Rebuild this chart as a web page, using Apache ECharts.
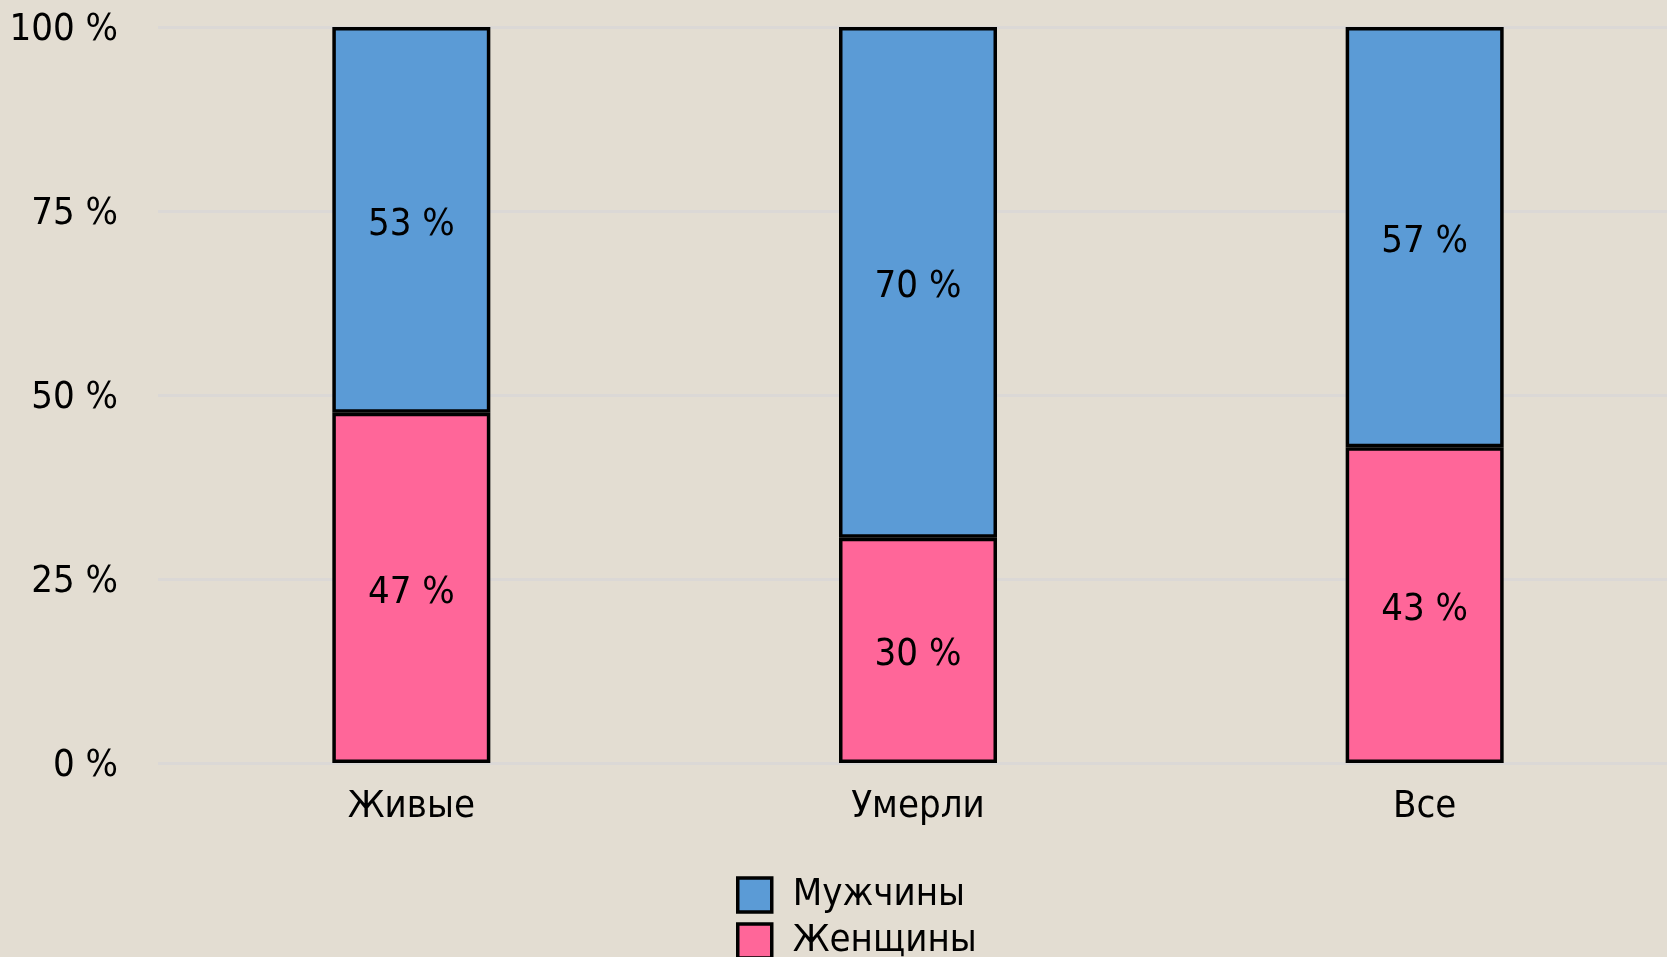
<!DOCTYPE html>
<html>
<head>
<meta charset="utf-8">
<script src="https://cdn.jsdelivr.net/npm/echarts@6/dist/echarts.min.js"></script>
<style>
  html, body { margin: 0; padding: 0; background: #e3ddd2; }
  #chart { width: 1667px; height: 957px; }
</style>
</head>
<body>
<div id="chart"></div>
<script>
// categories on the x axis
const groups = ['Живые', 'Умерли', 'Все'];

// share of women (bottom) and men (top), percent
const women = [47.6, 30.6, 42.9];
const men = [52.4, 69.4, 57.1];

// labels printed inside the bars
const womenLabels = ['47 %', '30 %', '43 %'];
const menLabels = ['53 %', '70 %', '57 %'];

// y tick values
const yTicks = [0, 25, 50, 75, 100];

const FONT = "'DejaVu Sans Condensed', 'DejaVu Sans', sans-serif";
const SIZE = 38;

const chart = echarts.init(document.getElementById('chart'));

// one legend block per row, so they stack vertically
function legendRow(name, top) {
    return {
        data: [name],
        left: 731,
        top: top,
        itemWidth: 34,
        itemHeight: 34,
        icon: 'rect',
        itemStyle: { borderColor: '#000', borderWidth: 3.5 },
        textStyle: {
            fontFamily: FONT,
            fontSize: SIZE,
            color: '#000',
            padding: [4, 0, 0, 16]
        }
    };
}

let option = {
    backgroundColor: '#e3ddd2',
    animation: false,
    textStyle: { fontFamily: FONT },
    grid: {
        left: 158,
        width: 1520,
        top: 27,
        height: 736,
        outerBoundsMode: 'none',
        containLabel: false
    },
    legend: [
        legendRow('Мужчины', 871),
        legendRow('Женщины', 917)
    ],
    xAxis: {
        type: 'category',
        data: groups,
        axisLine: { show: false },
        axisTick: { show: false },
        axisLabel: {
            fontFamily: FONT,
            fontSize: SIZE,
            color: '#000',
            margin: 25
        }
    },
    yAxis: {
        type: 'value',
        min: yTicks[0],
        max: yTicks[yTicks.length - 1],
        interval: 25,
        axisLine: { show: false },
        axisTick: { show: false },
        splitLine: { lineStyle: { color: '#dbd8d6', width: 3 } },
        axisLabel: {
            fontFamily: FONT,
            fontSize: SIZE,
            color: '#000',
            margin: 40,
            formatter: v => '{t|' + v + ' %}',
            rich: {
                t: { fontFamily: FONT, fontSize: SIZE, color: '#000', padding: [7, 0, 0, 0] }
            }
        }
    },
    series: [
        {
            name: 'Женщины',
            type: 'bar',
            stack: 'all',
            barWidth: 158,
            data: women,
            itemStyle: { color: '#ff6699', borderColor: '#000', borderWidth: 3.5 },
            label: {
                show: true,
                position: 'inside',
                offset: [0, 5],
                fontFamily: FONT,
                fontSize: SIZE,
                color: '#000',
                formatter: p => womenLabels[p.dataIndex]
            }
        },
        {
            name: 'Мужчины',
            type: 'bar',
            stack: 'all',
            barWidth: 158,
            data: men,
            itemStyle: { color: '#5b9bd6', borderColor: '#000', borderWidth: 3.5 },
            label: {
                show: true,
                position: 'inside',
                offset: [0, 5],
                fontFamily: FONT,
                fontSize: SIZE,
                color: '#000',
                formatter: p => menLabels[p.dataIndex]
            }
        }
    ]
};

chart.setOption(option);
</script>
</body>
</html>
